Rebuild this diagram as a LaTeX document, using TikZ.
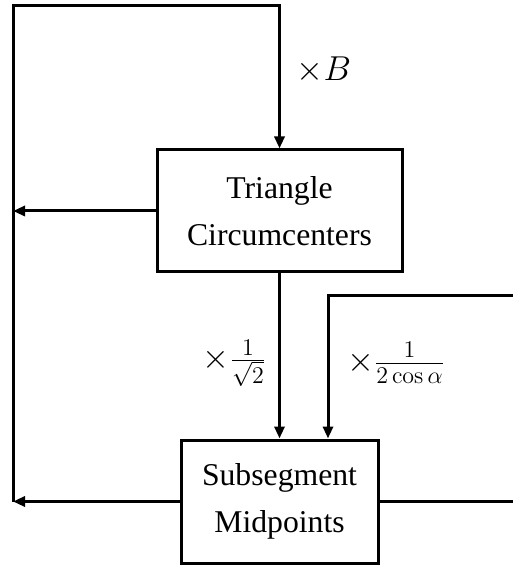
\documentclass[tikz,border=0pt]{standalone}
\usepackage[no-math]{fontspec}
\setmainfont{Liberation Serif}
\usetikzlibrary{arrows.meta}
\begin{document}
\begin{tikzpicture}[x=0.5pt,y=-0.5pt,
  line width=1.5pt, line join=miter,
  arr/.style={-{Triangle[length=6pt,width=5pt]}},
  blockbox/.style={draw, line width=1.5pt, align=center, inner sep=0pt,
    font=\fontsize{15.85}{23.5}\selectfont},
  mlabel/.style={font=\fontsize{16.8}{19}\selectfont, inner sep=0pt}]
\useasboundingbox (0,0) rectangle (512,565);
\node[blockbox, minimum width=122.5pt, minimum height=61pt] (tc) at (279.5,211) {Triangle\\Circumcenters};
\node[blockbox, minimum width=98.5pt, minimum height=61.5pt] (sm) at (279.5,501.5) {Subsegment\\Midpoints};
\coordinate (lbot) at (13,501.5);
\coordinate (ltop) at (13,6);
\coordinate (ttop) at (279.5,6);
\coordinate (lmid) at (13,211);
\coordinate (rtop) at (513,296);
\coordinate (rcorner) at (328,296);
\coordinate (rbot) at (513,501.5);
\draw[arr] (lbot) -- (ltop) -- (ttop) -- (tc.north);
\draw[arr] (tc.west) -- (lmid);
\draw[arr] (sm.west) -- (lbot);
\draw[arr] (tc.south) -- (sm.north);
\draw[arr] (rtop) -- (rcorner) -- (sm.north -| rcorner);
\draw (sm.east) -- (rbot);
\node[mlabel] (lb) at (324,70) {$\times B$};
\node[mlabel] (ls) at (234.5,363) {$\times\frac{1}{\sqrt{2}}$};
\node[mlabel] (lc) at (396,363) {$\times\frac{1}{2\cos\alpha}$};
\end{tikzpicture}
\end{document}
